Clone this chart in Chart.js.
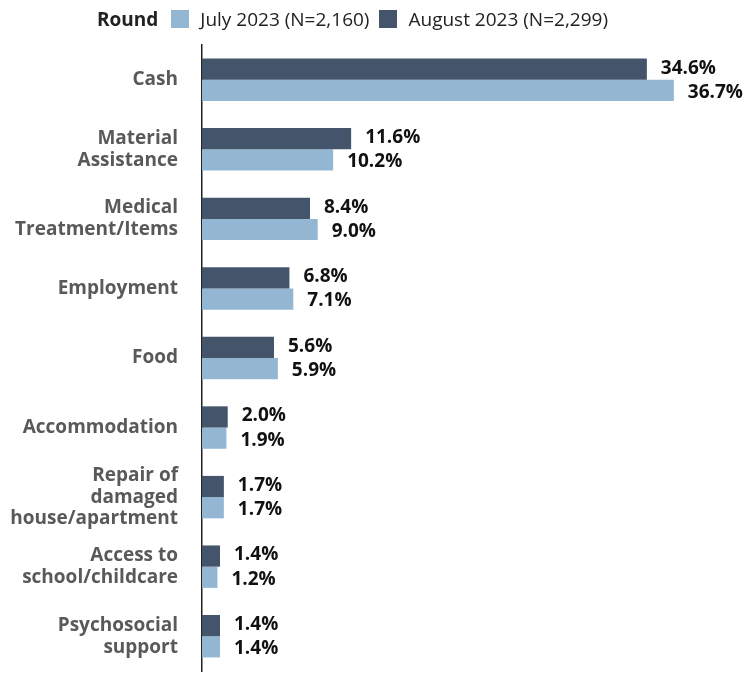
<!DOCTYPE html>
<html>
<head>
<meta charset="utf-8">
<script src="https://cdn.jsdelivr.net/npm/chart.js@4.4.0/dist/chart.umd.min.js"></script>
<style>
  html, body { margin: 0; padding: 0; background: #fff; }
  #wrap { position: relative; width: 756px; height: 675px; }
  #legend {
    position: absolute; left: 97px; top: 5px; height: 28px;
    font-family: "Open Sans", sans-serif; font-size: 19px; color: #222;
    display: flex; align-items: center; white-space: nowrap;
  }
  #legend b { font-weight: 700; margin-right: 13px; }
  #legend .box { width: 18px; height: 18px; display: inline-block; margin-right: 11px; }
  #legend .item { display: flex; align-items: center; margin-right: 10px; }
</style>
</head>
<body>
<div id="wrap">
  <canvas id="chart" width="756" height="675"></canvas>
  <div id="legend"></div>
</div>
<script>
// Dữ liệu
const categories = [
  'Cash',
  ['Material', 'Assistance'],
  ['Medical', 'Treatment/Items'],
  'Employment',
  'Food',
  'Accommodation',
  ['Repair of', 'damaged', 'house/apartment'],
  ['Access to', 'school/childcare'],
  ['Psychosocial', 'support']
];
const july2023 = [36.7, 10.2, 9.0, 7.1, 5.9, 1.9, 1.7, 1.2, 1.4];
const august2023 = [34.6, 11.6, 8.4, 6.8, 5.6, 2.0, 1.7, 1.4, 1.4];
const seriesNames = ['July 2023 (N=2,160)', 'August 2023 (N=2,299)'];

const lightColor = '#93b7d3';
const darkColor = '#44546a';

// Legend HTML
const legendEl = document.getElementById('legend');
legendEl.innerHTML = '<b>Round</b>' +
  `<span class="item"><span class="box" style="background:${lightColor}"></span>${seriesNames[0]}</span>` +
  `<span class="item"><span class="box" style="background:${darkColor}"></span>${seriesNames[1]}</span>`;

// Vẽ nhãn giá trị cạnh cột
const valueLabels = {
  id: 'valueLabels',
  afterDatasetsDraw(chart) {
    const ctx = chart.ctx;
    ctx.save();
    ctx.font = 'bold 19px "Open Sans", sans-serif';
    ctx.fillStyle = '#111';
    ctx.textBaseline = 'middle';
    ctx.textAlign = 'left';
    chart.data.datasets.forEach((ds, di) => {
      const meta = chart.getDatasetMeta(di);
      meta.data.forEach((bar, i) => {
        const dy = di === 0 ? -1 : 2;
        ctx.fillText(ds.data[i].toFixed(1) + '%', bar.x + 14, bar.y + dy);
      });
    });
    ctx.restore();
  }
};

new Chart(document.getElementById('chart'), {
  type: 'bar',
  data: {
    labels: categories,
    datasets: [
      { label: seriesNames[1], data: august2023, backgroundColor: darkColor },
      { label: seriesNames[0], data: july2023, backgroundColor: lightColor }
    ]
  },
  options: {
    indexAxis: 'y',
    responsive: false,
    animation: false,
    layout: { padding: { top: 45, bottom: 4, right: 14, left: 0 } },
    datasets: { bar: { categoryPercentage: 0.61, barPercentage: 1 } },
    plugins: { legend: { display: false }, tooltip: { enabled: false } },
    scales: {
      x: {
        min: 0, max: 42,
        display: false,
        grid: { display: false }
      },
      y: {
        grid: { display: false, drawTicks: false },
        border: { display: true, color: '#222', width: 1.5 },
        ticks: {
          padding: 24,
          color: '#595959',
          font: { family: '"Open Sans", sans-serif', size: 19, weight: 'bold', lineHeight: 1.15 }
        },
        afterFit(scale) {
          scale.width = 202;
          // nhãn nhiều dòng không được đẩy vùng vẽ lên
          scale.paddingTop = 0;
          scale.paddingBottom = 0;
        }
      }
    }
  },
  plugins: [valueLabels]
});
</script>
</body>
</html>
